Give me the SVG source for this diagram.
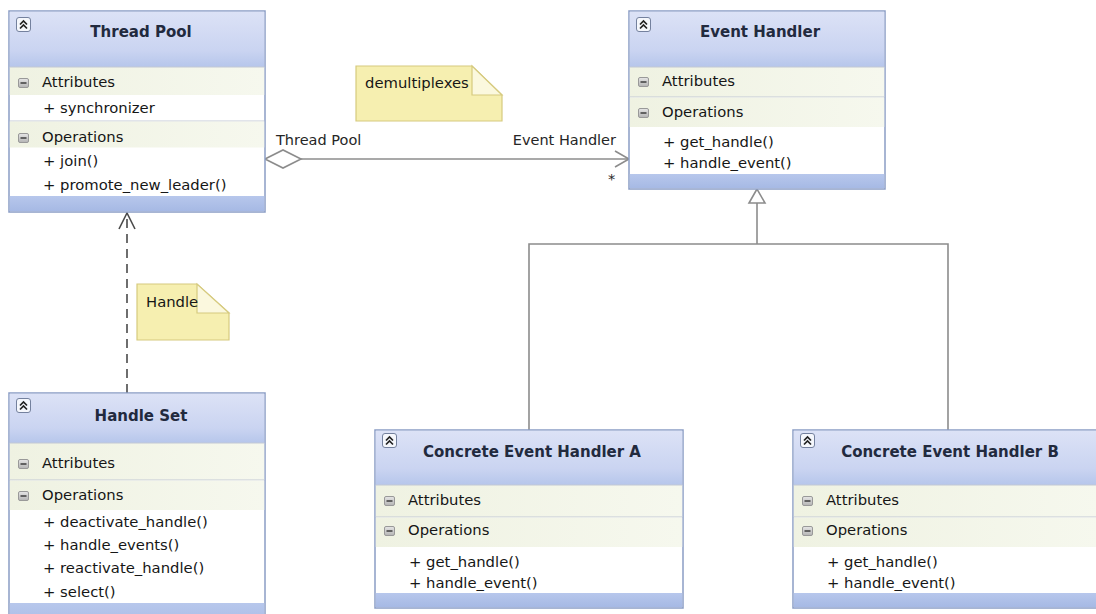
<svg xmlns="http://www.w3.org/2000/svg" width="1096" height="614" viewBox="0 0 1096 614">
  <defs>
    <linearGradient id="hdr" x1="0" y1="0" x2="0" y2="1">
      <stop offset="0" stop-color="#dce2f6"/>
      <stop offset="0.7" stop-color="#cad4f1"/>
      <stop offset="1" stop-color="#b6c6eb"/>
    </linearGradient>
    <linearGradient id="bar" x1="0" y1="0" x2="0" y2="1">
      <stop offset="0" stop-color="#b7c7ec"/>
      <stop offset="1" stop-color="#a6b9e4"/>
    </linearGradient>
    <linearGradient id="band" x1="0" y1="0" x2="1" y2="0">
      <stop offset="0" stop-color="#eff2e2"/>
      <stop offset="1" stop-color="#f6f8ee"/>
    </linearGradient>
    <linearGradient id="minusFill" x1="0" y1="0" x2="0" y2="1">
      <stop offset="0" stop-color="#e6e6e6"/>
      <stop offset="1" stop-color="#b4b4b4"/>
    </linearGradient>
    <!-- collapse toggle in a class header -->
    <g id="collapse">
      <rect x="0.5" y="0.5" width="14" height="14" rx="2.5" fill="#f5f7fc" stroke="#74819e" stroke-width="1"/>
      <polyline points="4,7.5 7.5,4 11,7.5" fill="none" stroke="#222" stroke-width="1.7"/>
      <polyline points="4,11.5 7.5,8 11,11.5" fill="none" stroke="#222" stroke-width="1.7"/>
    </g>
    <!-- compartment toggle -->
    <g id="minus">
      <rect x="0.5" y="0.5" width="10" height="9" rx="1.5" fill="url(#minusFill)" stroke="#999" stroke-width="1"/>
      <line x1="2.5" y1="5" x2="8.5" y2="5" stroke="#333" stroke-width="1.4"/>
    </g>
  </defs>
  <style>
    .box { fill: #ffffff; stroke: #8b9dc5; stroke-width: 1.5; }
    .hdr { fill: url(#hdr); }
    .bar { fill: url(#bar); }
    .band { fill: url(#band); }
    .div { stroke: #c2c8d4; stroke-width: 1; }
    .title { font-family: "DejaVu Sans", "Liberation Sans", sans-serif; font-size: 15px; font-weight: bold; fill: #222a3e; text-anchor: middle; }
    .t { font-family: "DejaVu Sans", "Liberation Sans", sans-serif; font-size: 14.8px; fill: #161616; }
    .lbl { font-family: "DejaVu Sans", "Liberation Sans", sans-serif; font-size: 14.5px; fill: #262626; }
    .note { fill: #f6efb0; stroke: #d6ca7e; stroke-width: 1.2; }
    .fold { fill: #fbf8de; stroke: #d6ca7e; stroke-width: 1.2; }
    .conn { fill: none; stroke: #8c8c8c; stroke-width: 1.6; }
    .dep { fill: none; stroke: #4a4a4a; stroke-width: 1.6; }
  </style>
  <rect width="1096" height="614" fill="#ffffff"/>

  <!-- connectors -->
  <g id="connectors">
    <!-- aggregation: Thread Pool -> Event Handler -->
    <line class="conn" x1="301" y1="159" x2="629" y2="159"/>
    <polygon class="conn" points="265,159 283,150 301,159 283,168" style="fill:#ffffff"/>
    <polyline class="conn" points="615,151 629,159 615,167"/>
    <text class="lbl" x="276" y="145">Thread Pool</text>
    <text class="lbl" x="616" y="145" text-anchor="end">Event Handler</text>
    <text class="lbl" x="608" y="184">*</text>
    <!-- generalization: concrete handlers -> Event Handler -->
    <polyline class="conn" points="529,430 529,244 948,244 948,430"/>
    <line class="conn" x1="757" y1="244" x2="757" y2="203"/>
    <polygon class="conn" points="757,189 749,203 765,203" style="fill:#ffffff"/>
    <!-- dependency: Handle Set -> Thread Pool -->
    <line class="dep" x1="127" y1="393" x2="127" y2="215" stroke-dasharray="9,6"/>
    <polyline class="dep" points="119,229 127,213 135,229"/>
  </g>

  <!-- notes -->
  <g id="note-demultiplexes">
    <polygon class="note" points="356,66 472,66 502,95 502,121 356,121"/>
    <polygon class="fold" points="472,66 472,95 502,95"/>
    <text class="t" x="365" y="88">demultiplexes</text>
  </g>
  <g id="note-handle">
    <polygon class="note" points="137,284 197,284 229,313 229,340 137,340"/>
    <polygon class="fold" points="197,284 197,313 229,313"/>
    <text class="t" x="146" y="307">Handle</text>
  </g>

  <!-- Thread Pool -->
  <g id="thread-pool" transform="translate(9,11)">
    <rect class="box" x="0" y="0" width="256" height="201"/>
    <rect class="hdr" x="0.75" y="0.75" width="254.5" height="55.25"/>
    <use href="#collapse" x="7" y="6"/>
    <text class="title" x="132" y="26">Thread Pool</text>
    <rect class="band" x="0.75" y="56" width="254.5" height="28"/>
    <line class="div" x1="0.75" y1="56" x2="255.25" y2="56"/>
    <use href="#minus" x="9" y="67"/>
    <text class="t" x="33" y="76">Attributes</text>
    <text class="t" x="34" y="102">+ synchronizer</text>
    <line class="div" x1="0.75" y1="110" x2="255.25" y2="110"/>
    <rect class="band" x="0.75" y="110.5" width="254.5" height="26"/>
    <use href="#minus" x="9" y="122"/>
    <text class="t" x="33" y="131">Operations</text>
    <text class="t" x="34" y="155">+ join()</text>
    <text class="t" x="34" y="179">+ promote_new_leader()</text>
    <rect class="bar" x="0.75" y="185" width="254.5" height="15.25"/>
  </g>

  <!-- Event Handler -->
  <g id="event-handler" transform="translate(629,11)">
    <rect class="box" x="0" y="0" width="256" height="178"/>
    <rect class="hdr" x="0.75" y="0.75" width="254.5" height="55.25"/>
    <use href="#collapse" x="7" y="6"/>
    <text class="title" x="131" y="26">Event Handler</text>
    <rect class="band" x="0.75" y="56" width="254.5" height="30"/>
    <line class="div" x1="0.75" y1="56" x2="255.25" y2="56"/>
    <use href="#minus" x="9" y="66"/>
    <text class="t" x="33" y="75">Attributes</text>
    <line class="div" x1="0.75" y1="86" x2="255.25" y2="86"/>
    <rect class="band" x="0.75" y="86.5" width="254.5" height="29.5"/>
    <use href="#minus" x="9" y="97"/>
    <text class="t" x="33" y="106">Operations</text>
    <text class="t" x="34" y="136">+ get_handle()</text>
    <text class="t" x="34" y="157">+ handle_event()</text>
    <rect class="bar" x="0.75" y="163" width="254.5" height="14.25"/>
  </g>

  <!-- Handle Set -->
  <g id="handle-set" transform="translate(9,393)">
    <rect class="box" x="0" y="0" width="256" height="240"/>
    <rect class="hdr" x="0.75" y="0.75" width="254.5" height="49.25"/>
    <use href="#collapse" x="7" y="5"/>
    <text class="title" x="132" y="28">Handle Set</text>
    <rect class="band" x="0.75" y="50" width="254.5" height="37"/>
    <line class="div" x1="0.75" y1="50" x2="255.25" y2="50"/>
    <use href="#minus" x="9" y="66"/>
    <text class="t" x="33" y="75">Attributes</text>
    <line class="div" x1="0.75" y1="87" x2="255.25" y2="87"/>
    <rect class="band" x="0.75" y="87.5" width="254.5" height="29.5"/>
    <use href="#minus" x="9" y="98"/>
    <text class="t" x="33" y="107">Operations</text>
    <text class="t" x="34" y="134">+ deactivate_handle()</text>
    <text class="t" x="34" y="157">+ handle_events()</text>
    <text class="t" x="34" y="180">+ reactivate_handle()</text>
    <text class="t" x="34" y="204">+ select()</text>
    <rect class="bar" x="0.75" y="210" width="254.5" height="29"/>
  </g>

  <!-- Concrete Event Handler A -->
  <g id="concrete-a" transform="translate(375,430)">
    <rect class="box" x="0" y="0" width="308" height="178"/>
    <rect class="hdr" x="0.75" y="0.75" width="306.5" height="54.25"/>
    <use href="#collapse" x="7" y="3"/>
    <text class="title" x="157" y="27">Concrete Event Handler A</text>
    <rect class="band" x="0.75" y="55" width="306.5" height="32"/>
    <line class="div" x1="0.75" y1="55" x2="307.25" y2="55"/>
    <use href="#minus" x="9" y="66"/>
    <text class="t" x="33" y="75">Attributes</text>
    <line class="div" x1="0.75" y1="87" x2="307.25" y2="87"/>
    <rect class="band" x="0.75" y="87.5" width="306.5" height="29.5"/>
    <use href="#minus" x="9" y="96"/>
    <text class="t" x="33" y="105">Operations</text>
    <text class="t" x="34" y="137">+ get_handle()</text>
    <text class="t" x="34" y="158">+ handle_event()</text>
    <rect class="bar" x="0.75" y="163" width="306.5" height="14.25"/>
  </g>

  <!-- Concrete Event Handler B -->
  <g id="concrete-b" transform="translate(793,430)">
    <rect class="box" x="0" y="0" width="308" height="178"/>
    <rect class="hdr" x="0.75" y="0.75" width="306.5" height="54.25"/>
    <use href="#collapse" x="7" y="3"/>
    <text class="title" x="157" y="27">Concrete Event Handler B</text>
    <rect class="band" x="0.75" y="55" width="306.5" height="32"/>
    <line class="div" x1="0.75" y1="55" x2="307.25" y2="55"/>
    <use href="#minus" x="9" y="66"/>
    <text class="t" x="33" y="75">Attributes</text>
    <line class="div" x1="0.75" y1="87" x2="307.25" y2="87"/>
    <rect class="band" x="0.75" y="87.5" width="306.5" height="29.5"/>
    <use href="#minus" x="9" y="96"/>
    <text class="t" x="33" y="105">Operations</text>
    <text class="t" x="34" y="137">+ get_handle()</text>
    <text class="t" x="34" y="158">+ handle_event()</text>
    <rect class="bar" x="0.75" y="163" width="306.5" height="14.25"/>
  </g>
</svg>
